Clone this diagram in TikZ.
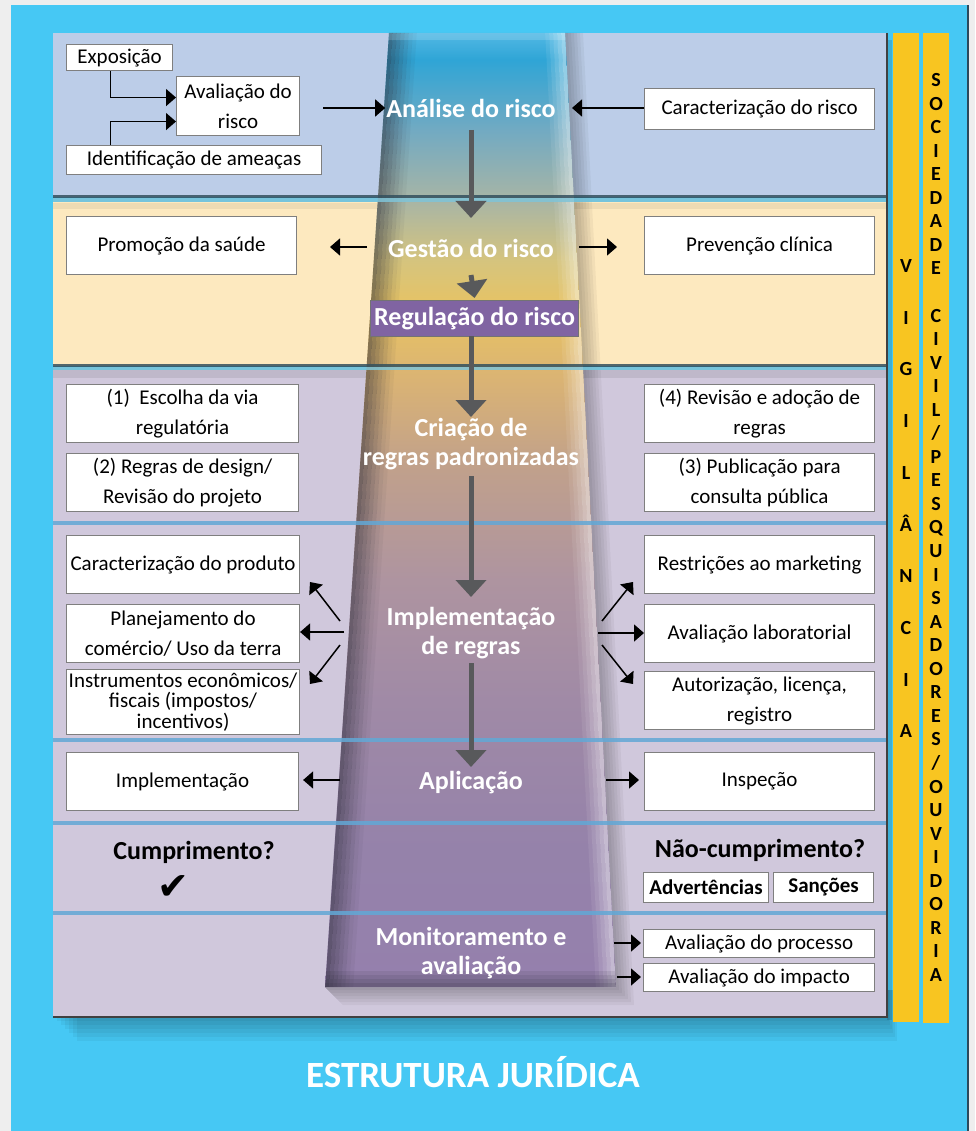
\documentclass[tikz,border=0pt]{standalone}
\usepackage{fontspec}
\setmainfont{Carlito}
\newfontfamily\symfont{DejaVu Sans}
\usetikzlibrary{arrows.meta}
\definecolor{skyb}{HTML}{46C8F4}
\definecolor{bandA}{HTML}{BCCDE8}
\definecolor{bandB}{HTML}{FDE9BF}
\definecolor{bandC}{HTML}{D0C8DC}
\definecolor{sepl}{HTML}{62A8D6}
\definecolor{sepdark}{HTML}{33505E}
\definecolor{septeal}{HTML}{7FC4D8}
\definecolor{goldbar}{HTML}{F8C521}
\definecolor{boxgray}{HTML}{7F7F7F}
\definecolor{arrgray}{HTML}{58595B}
\definecolor{regpurple}{HTML}{8064A2}
\definecolor{bevdark}{HTML}{2A2A36}
\definecolor{pagebg}{HTML}{EEEEEE}
\definecolor{edgedark}{HTML}{2B4A5C}
\definecolor{fs1}{HTML}{9580AD}
\definecolor{fs2}{HTML}{9582AA}
\definecolor{fs3}{HTML}{A08AA6}
\definecolor{fs4}{HTML}{AE94A0}
\definecolor{fs5}{HTML}{C0A08C}
\definecolor{fs6}{HTML}{DAB374}
\definecolor{fs7}{HTML}{E8C362}
\definecolor{fs8}{HTML}{D5C47E}
\definecolor{fs9}{HTML}{A8B5A5}
\definecolor{fs10}{HTML}{72AAC2}
\definecolor{fs11}{HTML}{2FA5D6}
\definecolor{fs12}{HTML}{52B8E4}
\pgfdeclareverticalshading{funnelsh}{100bp}{color(0bp)=(fs1); color(25bp)=(fs1); color(32.2bp)=(fs2); color(40bp)=(fs3); color(46.3bp)=(fs4); color(52.1bp)=(fs5); color(56.8bp)=(fs6); color(60.5bp)=(fs7); color(63.1bp)=(fs8); color(66.2bp)=(fs9); color(69.9bp)=(fs10); color(73.6bp)=(fs11); color(75bp)=(fs12); color(100bp)=(fs12)}
\begin{document}
\begin{tikzpicture}[x=1pt,y=-1pt,
  box/.style={draw=boxgray, line width=1.1pt, fill=white, align=center, inner sep=0pt, font=\fontsize{21}{30}\selectfont, anchor=north west},
  flabel/.style={text=white, font=\bfseries\fontsize{26}{29}\selectfont, align=center, inner sep=1pt},
  thinarr/.style={-{Triangle[width=17pt,length=10pt]}, line width=1.5pt, black},
  bigarr/.style={-{Triangle[width=30pt,length=17pt]}, line width=5pt, arrgray},
  sep/.style={sepl, line width=4pt, opacity=0.85},
  vlet/.style={font=\bfseries\fontsize{20}{20}\selectfont, inner sep=0pt, anchor=base},
  bold21/.style={font=\bfseries\fontsize{21}{21}\selectfont}
]
\useasboundingbox (0,0) rectangle (975,1131);
% background
\fill[pagebg] (0,0) rectangle (975,1131);
\fill[skyb] (11,5) rectangle (967,1131);
\fill[edgedark] (967,5) rectangle (969,1131);
% panel shadow
\foreach \s in {4,8,12,16,20,24}
  \fill[black, opacity=0.045] (53+\s,990) rectangle (887+0.4*\s,1017+\s);
\fill[black, opacity=0.12] (887,40) rectangle (892,1020);
% bands
\fill[bandA] (53,33) rectangle (887,197);
\fill[bandB] (53,202) rectangle (887,366);
\fill[bandC] (53,370) rectangle (887,1017);
\fill[black, opacity=0.08] (53,370) rectangle (887,378);
\fill[black, opacity=0.06] (53,203) rectangle (887,209);
% funnel outer shadow
\foreach \o in {3,6,9,12,15,18}
  \fill[black, opacity=0.045] (565,33) -- (565+\o,33) -- (616+\o,987+\o) -- (325+\o,987+\o) -- (325,987) -- cycle;
% funnel
\shade[shading=funnelsh] (389,33) -- (565,33) -- (616,987) -- (325,987) -- cycle;
\begin{scope}
  \clip (389,33) -- (565,33) -- (616,987) -- (325,987) -- cycle;
  \foreach \a/\op in {0/0.5,4/0.42,8/0.34,12/0.26,16/0.18,20/0.1,24/0.05}
    \fill[bevdark, opacity=\op] (389+\a,30) -- (393+\a,30) -- (329+\a,990) -- (325+\a,990) -- cycle;
  \foreach \a/\op in {0/0.45,4/0.35,8/0.25,12/0.16,16/0.08}
    \fill[white, opacity=\op] (565-\a,30) -- (561-\a,30) -- (612-\a,990) -- (616-\a,990) -- cycle;
  \foreach \b/\op in {0/0.4,4/0.3,8/0.2,12/0.1}
    \fill[bevdark, opacity=\op] (320,987-\b) rectangle (620,983-\b);
  \fill[white, opacity=0.15] (380,33) rectangle (570,40);
\end{scope}
% separators
\fill[sepdark, opacity=0.85] (53,195) rectangle (887,198);
\fill[septeal, opacity=0.85] (53,198) rectangle (887,202);
\fill[sepdark, opacity=0.85] (53,364) rectangle (887,367);
\fill[septeal, opacity=0.85] (53,367) rectangle (887,370);
\foreach \yy in {523,740,823,913}
  \draw[sep] (53,\yy) -- (887,\yy);
% panel edges
\draw[black!75, line width=2pt] (887,33) -- (887,1017) -- (53,1017);

% ---------- band 1 ----------
\node[box, minimum width=106pt, minimum height=26pt] (expo) at (66,44) {Exposição};
\node[box, minimum width=123pt, minimum height=59pt] (aval) at (176,76) {Avaliação do\\risco};
\node[box, minimum width=255pt, minimum height=29pt] (ident) at (66,145) {Identificação de ameaças};
\node[box, minimum width=230pt, minimum height=41pt] (carr) at (644,88) {Caracterização do risco};
\node[flabel] (analise) at (471,108) {Análise do risco};
\draw[thinarr] ([xshift=-9pt]expo.south) |- ([yshift=8.5pt]aval.west);
\draw[thinarr] ([xshift=-83.5pt]ident.north) |- ([yshift=-15.5pt]aval.west);
\coordinate (a1) at (323,108);
\draw[thinarr] (a1) -- (analise.west |- a1);
\coordinate (a2) at (572,108);
\draw[thinarr] (carr.west |- a2) -- (a2);

% ---------- band 2 ----------
\node[box, minimum width=230pt, minimum height=58pt] (promo) at (66,216) {Promoção da saúde};
\node[box, minimum width=230pt, minimum height=58pt] (prev) at (644,216) {Prevenção clínica};
\node[flabel] (gestao) at (471,248) {Gestão do risco};
\coordinate (g1) at (367,247);
\coordinate (g2) at (330,247);
\draw[thinarr] (g1) -- (g2);
\coordinate (g3) at (579,247);
\coordinate (g4) at (617,247);
\draw[thinarr] (g3) -- (g4);
\node[box, fill=regpurple, draw=black!55, text=white, font=\bfseries\fontsize{26}{26}\selectfont, minimum width=208pt, minimum height=36pt] (regul) at (370,300) {Regulação do risco};

% ---------- band 3 ----------
\node[box, minimum width=232pt, minimum height=58pt] (b1) at (66,384) {(1)\ \ Escolha da via\\regulatória};
\node[box, minimum width=232pt, minimum height=58pt] (b2) at (66,453) {(2) Regras de design/\\Revisão do projeto};
\node[box, minimum width=230pt, minimum height=58pt] (b4) at (644,384) {(4) Revisão e adoção de\\regras};
\node[box, minimum width=230pt, minimum height=58pt] (b3) at (644,453) {(3) Publicação para\\consulta pública};
\node[flabel] (criacao) at (471,444) {Criação de\\regras padronizadas};

% ---------- band 4 ----------
\node[box, minimum width=233pt, minimum height=58pt] (c1) at (66,535) {Caracterização do produto};
\node[box, minimum width=233pt, minimum height=58pt] (c2) at (66,604) {Planejamento do\\comércio/ Uso da terra};
\node[box, minimum width=233pt, minimum height=65pt, font=\fontsize{21}{20.5}\selectfont] (c3) at (66,669) {Instrumentos econômicos/\\fiscais (impostos/\\incentivos)};
\node[box, minimum width=230pt, minimum height=58pt] (r1) at (644,535) {Restrições ao marketing};
\node[box, minimum width=230pt, minimum height=58pt] (r2) at (644,604) {Avaliação laboratorial};
\node[box, minimum width=230pt, minimum height=58pt] (r3) at (644,671) {Autorização, licença,\\registro};
\node[flabel] (implem) at (471,633) {Implementação\\de regras};
\coordinate (l1) at (340,621); \coordinate (l1e) at (310,582);
\coordinate (l2) at (344,632);
\coordinate (l3) at (340,645); \coordinate (l3e) at (310,684);
\draw[thinarr] (l1) -- (l1e);
\draw[thinarr] (l2) -- (c2.east |- l2);
\draw[thinarr] (l3) -- (l3e);
\coordinate (q1) at (602,621); \coordinate (q1e) at (633,582);
\coordinate (q2) at (598,633);
\coordinate (q3) at (602,645); \coordinate (q3e) at (633,684);
\draw[thinarr] (q1) -- (q1e);
\draw[thinarr] (q2) -- (r2.west |- q2);
\draw[thinarr] (q3) -- (q3e);

% ---------- band 5 ----------
\node[box, minimum width=232pt, minimum height=58pt] (imp) at (66,752) {Implementação};
\node[box, minimum width=230pt, minimum height=58pt] (insp) at (644,752) {Inspeção};
\node[flabel] (aplic) at (471,783) {Aplicação};
\coordinate (p1) at (340,780);
\coordinate (p2) at (606,780);
\draw[thinarr] (p1) -- ([xshift=4pt]imp.east |- p1);
\draw[thinarr] (p2) -- ([xshift=-5pt]insp.west |- p2);

% ---------- band 6 ----------
\node[font=\bfseries\fontsize{26}{26}\selectfont, inner sep=0pt] (cump) at (194,852) {Cumprimento?};
\node[inner sep=0pt, font=\symfont\fontsize{38}{38}\selectfont] (check) at (173,888) {✔};
\node[font=\bfseries\fontsize{26}{26}\selectfont, inner sep=0pt] (ncump) at (760,850) {Não-cumprimento?};
\node[box, bold21, minimum width=125pt, minimum height=30pt] (adv) at (643,872) {Advertências};
\node[box, bold21, minimum width=100pt, minimum height=30pt] (sanc) at (773,872) {Sanções};

% ---------- band 7 ----------
\node[box, minimum width=231pt, minimum height=28pt] (proc) at (643,929) {Avaliação do processo};
\node[box, minimum width=231pt, minimum height=28pt] (impa) at (643,963) {Avaliação do impacto};
\node[flabel] (monit) at (471,953) {Monitoramento e\\avaliação};
\coordinate (m1) at (614,943);
\coordinate (m2) at (617,977);
\draw[thinarr] (m1) -- ([xshift=-2pt]proc.west |- m1);
\draw[thinarr] (m2) -- ([xshift=-2pt]impa.west |- m2);

% ---------- funnel arrows ----------
\draw[bigarr] (analise.south |- 0,130) -- (analise.south |- 0,218);
\draw[bigarr] (analise.south |- 0,275) -- (regul.north |- 0,298);
\draw[bigarr] (analise.south |- 0,336) -- (criacao.north |- 0,417);
\draw[bigarr] (analise.south |- 0,476) -- (implem.north |- 0,597);
\draw[bigarr] (analise.south |- 0,663) -- (aplic.north |- 0,767);

% ---------- side bars ----------
\fill[goldbar] (893,33) rectangle (919,1022);
\fill[goldbar] (923,33) rectangle (949,1023);
\foreach \l [count=\i from 0] in {V,I,G,I,L,Â,N,C,I,A}
  \node[vlet] (v\i) at (906,272.5+51.7*\i) {\l};
\foreach \l [count=\i from 0] in {S,O,C,I,E,D,A,D,E,{},C,I,V,I,L,/,P,E,S,Q,U,I,S,A,D,O,R,E,S,/,O,U,V,I,D,O,R,I,A}
  \node[vlet] (s\i) at (936,86.5+23.55*\i) {\l};

% ---------- title ----------
\node[text=white, font=\bfseries\fontsize{37}{37}\selectfont, inner sep=0pt] (title) at (473,1072) {ESTRUTURA JURÍDICA};
\end{tikzpicture}
\end{document}
